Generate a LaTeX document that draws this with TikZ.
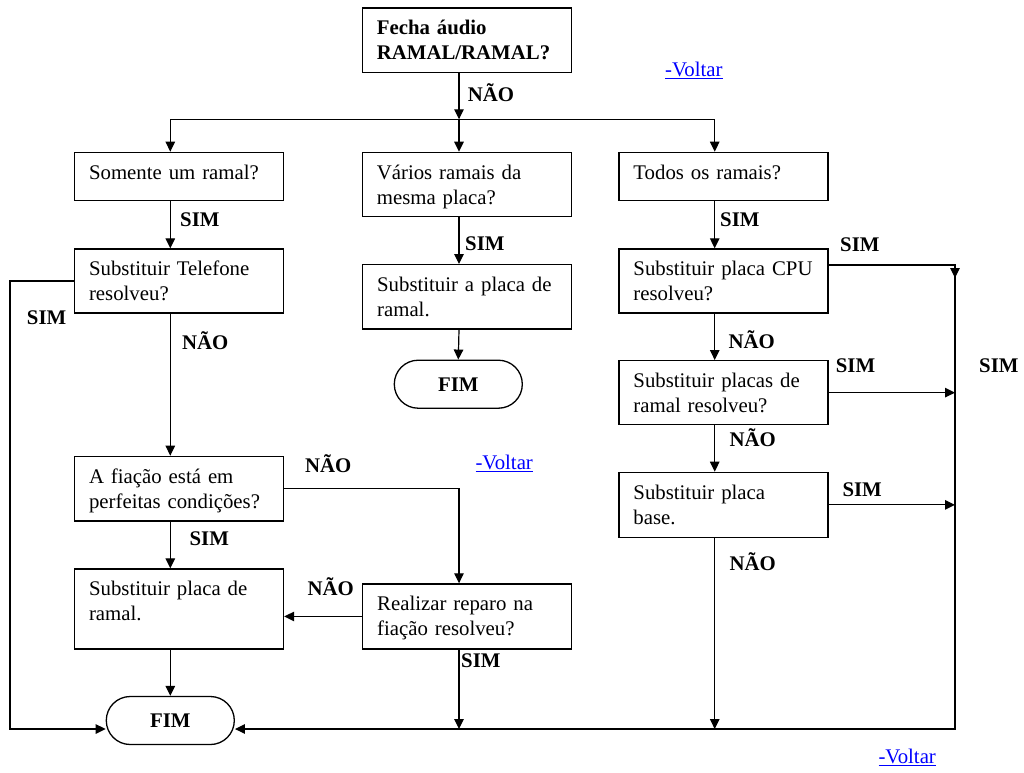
\documentclass[tikz,border=0pt]{standalone}
\usepackage{fontspec}
\setmainfont{Liberation Serif}
\usetikzlibrary{arrows.meta,calc}
\definecolor{linkblue}{RGB}{0,0,255}
\newcommand{\fsz}{\fontsize{20.8pt}{25pt}\selectfont}
\begin{document}
\begin{tikzpicture}[x=1pt,y=-1pt,
  every node/.style={font=\fsz},
  box/.style={draw, line width=1.3pt, rectangle, anchor=north west, inner xsep=14.5pt, inner ysep=0pt, text width=180pt, align=left, text height=27pt},
  term/.style={draw, line width=1.3pt, rectangle, rounded corners=23.9pt, minimum width=128pt, minimum height=48pt, font=\fsz\bfseries, inner sep=0pt},
  arr/.style={line width=1.2pt, -{Triangle[length=10pt,width=9.5pt]}},
  ln/.style={line width=1.2pt},
  lab/.style={font=\fsz\bfseries, anchor=base west, inner sep=0pt},
  lnk/.style={font=\fsz, text=linkblue, anchor=base west, inner sep=0pt}]
\useasboundingbox (0,0) rectangle (1024,772);

% boxes
\node[box, text depth=37.4pt, font=\fsz\bfseries] (top) at (361.7,7.3) {Fecha~áudio\\RAMAL/RAMAL?};
\node[box, text depth=21.3pt] (som) at (73.9,151.7) {Somente~um~ramal?};
\node[box, text depth=37.3pt] (var) at (361.7,151.7) {Vários~ramais~da\\mesma~placa?};
\node[box, text depth=21.3pt] (tod) at (618.3,151.7) {Todos~os~ramais?};
\node[box, text depth=37pt] (tel) at (73.9,248.3) {Substituir~Telefone\\resolveu?};
\node[box, text depth=37.3pt] (pla) at (362,264) {Substituir~a~placa~de\\ramal.};
\node[box, text depth=37pt] (cpu) at (618.3,248.3) {Substituir~placa~CPU\\resolveu?};
\node[term] (fimA) at (458.3,384.2) {FIM};
\node[box, text depth=37pt] (plc) at (618.3,360) {Substituir~placas~de\\ramal~resolveu?};
\node[box, text depth=37.6pt] (fia) at (73.9,455.7) {A~fiação~está~em\\perfeitas~condições?};
\node[box, text depth=38pt] (bas) at (618.3,471.7) {Substituir~placa\\base.};
\node[box, text depth=53pt] (prl) at (73.9,568.3) {Substituir~placa~de\\ramal.};
\node[box, text depth=38pt] (rea) at (362,583.3) {Realizar~reparo~na\\fiação~resolveu?};
\node[term] (fimB) at (170.3,720.5) {FIM};

% helper coordinates
\coordinate (cL) at (170.3,0);
\coordinate (cM) at (459,0);
\coordinate (cR) at (714.7,0);
\coordinate (yH) at (0,119.3);
\coordinate (xV) at (955,0);
\coordinate (yB) at (0,729);
\coordinate (xE) at (10,0);
\coordinate (r1) at (955,278);
\coordinate (cpuR) at ([yshift=16pt]cpu.east);

% connectors
\draw[arr] (top.south -| cM) -- (cM |- yH);
\draw[ln] (cL |- yH) -- (cR |- yH);
\draw[arr] (cL |- yH) -- (som.north -| cL);
\draw[arr] (cM |- yH) -- (var.north -| cM);
\draw[arr] (cR |- yH) -- (tod.north -| cR);
\draw[arr] (som.south -| cL) -- (tel.north -| cL);
\draw[arr] (var.south -| cM) -- (pla.north -| cM);
\draw[arr] (pla.south -| cM) -- (fimA.north);
\draw[arr] (tel.south -| cL) -- (fia.north -| cL);
\draw[arr] (tel.west) -| (xE |- yB) -- (fimB.west |- yB);
\draw[arr] (fia.east) -| (rea.north -| cM);
\draw[arr] (fia.south -| cL) -- (prl.north -| cL);
\draw[arr] (rea.west) -- (rea.west -| prl.east);
\draw[arr] (prl.south -| cL) -- (fimB.north);
\draw[arr] (rea.south -| cM) -- (cM |- yB);
\draw[arr] (tod.south -| cR) -- (cpu.north -| cR);
\draw[arr] (cpu.south -| cR) -- (plc.north -| cR);
\draw[arr] (plc.south -| cR) -- (bas.north -| cR);
\draw[arr] (bas.south -| cR) -- (cR |- yB);
\draw[arr] (cpuR) -| (r1);
\draw[arr] (cpuR -| xV) -- (xV |- yB) -- (fimB.east |- yB);
\draw[arr] (plc.east) -- (plc.east -| xV);
\draw[arr] (bas.east) -- (bas.east -| xV);

% labels
\node[lab] (l1) at (467.7,101.7) {NÃO};
\node[lab] (l2) at (180,226.7) {SIM};
\node[lab] (l3) at (465,250) {SIM};
\node[lab] (l4) at (26.8,324) {SIM};
\node[lab] (l5) at (181.8,349) {NÃO};
\node[lab] (l6) at (305,472) {NÃO};
\node[lab] (l7) at (189.4,545) {SIM};
\node[lab] (l8) at (307.3,595) {NÃO};
\node[lab] (l9) at (461,667) {SIM};
\node[lab] (l10) at (720,226.7) {SIM};
\node[lab] (l11) at (840,251) {SIM};
\node[lab] (l12) at (728.3,348) {NÃO};
\node[lab] (l13) at (835.7,372.7) {SIM};
\node[lab] (l14) at (979,372.7) {SIM};
\node[lab] (l15) at (729.3,446.7) {NÃO};
\node[lab] (l16) at (842.3,496.7) {SIM};
\node[lab] (l17) at (729.3,570) {NÃO};

% links
\node[lnk] (v1) at (665,76.5) {\underline{-Voltar}};
\node[lnk] (v2) at (475.3,469.8) {\underline{-Voltar}};
\node[lnk] (v3) at (878.3,763.5) {\underline{-Voltar}};
\end{tikzpicture}
\end{document}
